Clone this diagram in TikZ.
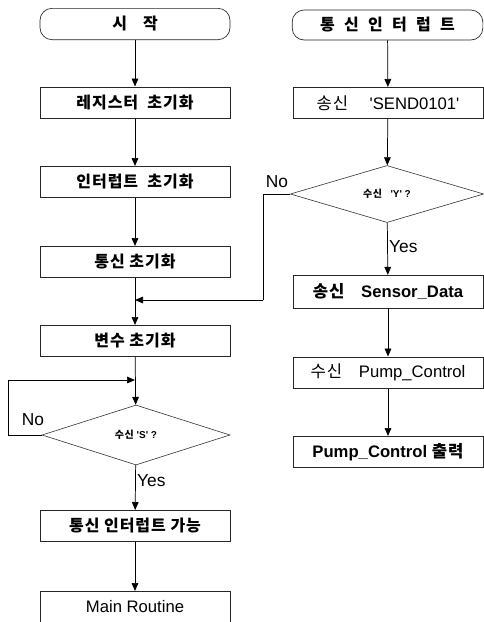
\documentclass[tikz,border=0pt]{standalone}
\usepackage{fontspec}
\setmainfont{Liberation Sans}
\newfontfamily\kr[LetterSpace=6]{Noto Sans CJK KR}
\usetikzlibrary{shapes.geometric,arrows.meta}
\newcommand{\sq}{\textquotesingle}
\tikzset{
  box/.style={draw=black!85, line width=0.5pt, minimum width=142.5pt, minimum height=23.5pt, inner sep=0pt,
              font=\fontsize{12.5}{14}\selectfont},
  term/.style={box, rounded corners=9pt},
  dec/.style={draw=black!80, diamond, inner sep=0pt, line width=0.45pt, font=\fontsize{7.5}{9}\selectfont\bfseries},
  arr/.style={-{Triangle[length=6pt,width=5pt]}, line width=0.55pt},
  ln/.style={line width=0.5pt},
  lbl/.style={font=\fontsize{13}{15}\selectfont, inner sep=1pt}
}
\begin{document}
\begin{tikzpicture}[x=0.75pt,y=-0.75pt]
\useasboundingbox (0,0) rectangle (484,622);
% left column
\node[term] (start) at (135,24) {\kr\bfseries\fontsize{12}{14}\selectfont 시\quad 작};
\node[box] (reg) at (135,102.5) {\kr\bfseries\fontsize{12}{14}\selectfont 레지스터\ \ 초기화};
\node[box] (intr) at (135,182) {\kr\bfseries\fontsize{12}{14}\selectfont 인터럽트\ \ 초기화};
\node[box] (comm) at (135,262) {\kr\bfseries\fontsize{12}{14}\selectfont 통신 초기화};
\node[box] (var) at (135,341) {\kr\bfseries\fontsize{12}{14}\selectfont 변수 초기화};
\node[dec, minimum width=141pt, minimum height=45pt] (d1) at (136,435) {{\kr 수신} \sq S\sq\ ?};
\node[box] (en) at (135,526) {\kr\bfseries\fontsize{12}{14}\selectfont 통신 인터럽트 가능};
\node[box] (main) at (135,607) {Main Routine};
\coordinate (j1) at (135,300);
\coordinate (j2) at (135,380);
\coordinate (l1a) at (8,435);
\coordinate (l1b) at (8,380);
% right column
\node[term, minimum width=143pt, minimum height=22.5pt] (rstart) at (387.5,25) {\kr\bfseries\fontsize{12}{14}\selectfont 통\ \ 신\ \ 인\ \ 터\ \ 럽\ \ 트};
\node[box] (send) at (388,103) {{\kr 송신}\quad\ \sq SEND0101\sq};
\node[dec, minimum width=145pt, minimum height=39pt] (d2) at (387,194) {{\kr 수신}\ \ \ \sq Y\sq\ ?};
\node[box, minimum height=24.5pt] (sens) at (388,291.5) {\bfseries{\kr 송신}\quad Sensor\_Data};
\node[box] (pump) at (388,372.5) {{\kr 수신}\quad Pump\_Control};
\node[box] (out) at (388,452) {\bfseries Pump\_Control {\kr 출력}};
\coordinate (r1a) at (263,194);
\coordinate (r1b) at (263,300);
% connectors left
\draw[arr] (start) -- (reg);
\draw[arr] (reg) -- (intr);
\draw[arr] (intr) -- (comm);
\draw[arr] (comm) -- (var);
\draw[arr] (var) -- (d1);
\draw[arr] (d1) -- node[lbl, right, pos=0.35] {Yes} (en);
\draw[arr] (en) -- (main);
\draw[ln] (d1.west) -- (l1a) -- (l1b);
\draw[arr] (l1b) -- (j2);
\node[lbl] (no1) at (33,420) {No};
% connectors right
\draw[arr] (rstart) -- (send);
\draw[arr] (send) -- (d2);
\draw[arr] (d2) -- node[lbl, right, pos=0.45] {Yes} (sens);
\draw[arr] (sens) -- (pump);
\draw[arr] (pump) -- (out);
\draw[ln] (d2.west) -- (r1a) -- (r1b);
\draw[arr] (r1b) -- (j1);
\node[lbl] (no2) at (277,182) {No};
\end{tikzpicture}
\end{document}
